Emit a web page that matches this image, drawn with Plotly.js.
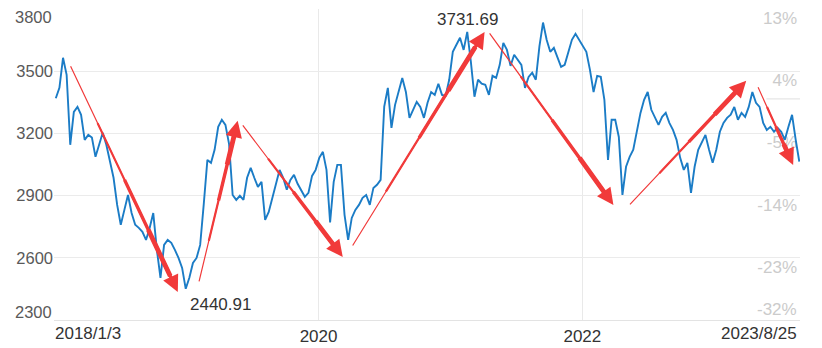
<!DOCTYPE html>
<html>
<head>
<meta charset="utf-8">
<script src="https://cdn.plot.ly/plotly-3.0.1.min.js"></script>
<style>html,body{margin:0;padding:0;background:#fff;}#chart{width:822px;height:348px;}</style>
</head>
<body>
<div id="chart"></div>
<script>
const seriesStart = '2018-01-03';
const sampleStepDays = 10;
const indexValues = [
 3370,3420,3565,3483,3145,3304,3328,3290,3169,3193,
 3180,3087,3145,3203,3145,3058,2986,2855,2759,2831,
 2903,2816,2759,2744,2725,2686,2744,2816,2638,2503,
 2662,2686,2672,2638,2599,2551,2450,2503,2575,2599,
 2662,2860,3072,3058,3121,3232,3266,3241,3150,2903,
 2879,2899,2879,2986,3034,2986,2942,2966,2783,2821,
 2889,2961,3024,2986,2928,2976,3000,2957,2928,2894,
 2913,2995,3024,3082,3111,3024,2770,2966,3048,3048,
 2807,2686,2792,2831,2855,2889,2903,2855,2937,2952,
 2976,3330,3420,3227,3338,3410,3468,3400,3275,3314,
 3352,3328,3275,3348,3400,3386,3440,3386,3381,3459,
 3594,3628,3662,3603,3690,3546,3377,3459,3440,3435,
 3386,3478,3468,3531,3637,3603,3526,3580,3555,3531,
 3420,3473,3493,3459,3620,3735,3652,3594,3613,3570,
 3521,3531,3589,3652,3681,3652,3628,3594,3507,3400,
 3478,3473,3362,3072,3266,3266,3183,2903,3039,3087,
 3121,3217,3299,3362,3400,3314,3280,3241,3280,3299,
 3251,3217,3169,3082,3024,3058,2913,3039,3121,3155,
 3193,3121,3058,3121,3208,3251,3275,3290,3328,3266,
 3299,3280,3328,3400,3348,3328,3251,3217,3232,3208,
 3227,3208,3169,3232,3290,3170,3064
];

// Axis ticks
const leftTickValues = [2300, 2600, 2900, 3200, 3500, 3800];
const pctTickValues = [13, 4, -5, -14, -23, -32];
const pctTickText = ['13%', '4%', '-5%', '-14%', '-23%', '-32%'];
const xTickDates = ['2020-01-01', '2022-01-01'];
const xTickText = ['2020', '2022'];
const xEndLabels = ['2018/1/3', '2023/8/25'];

// Marked extremes
const lowDate = '2019-01-04', lowValue = 2440.91;
const highDate = '2021-02-18', highValue = 3731.69;

// Trend arrows: tail -> head
const arrowTailDates = ['2018-02-11','2019-02-03','2019-06-02','2020-04-02','2021-04-16','2022-05-09','2023-05-01'];
const arrowTailValues = [3531, 2479, 3246, 2652, 3690, 2850, 3430];
const arrowHeadDates = ['2018-12-07','2019-05-22','2020-03-08','2021-04-05','2022-03-28','2023-03-31','2023-08-08'];
const arrowHeadValues = [2435, 3261, 2604, 3690, 2855, 3454, 3048];

const DAY = 86400000;
const t0 = Date.parse(seriesStart + 'T00:00:00Z');
const dates = indexValues.map((_, i) => new Date(t0 + i * sampleStepDays * DAY).toISOString().slice(0, 10));

const RED = 'rgb(241,58,58)';
const fontFam = '"Liberation Sans", Arial, sans-serif';

function toStr(ms) { return new Date(ms).toISOString().slice(0, 19).replace('T', ' '); }

const annotations = [];
// tapered arrows built from stacked segments
const segs = [
  {a: 0.00, b: 0.93, w: 1.2, head: 0},
  {a: 0.25, b: 0.93, w: 2.2, head: 0},
  {a: 0.50, b: 0.93, w: 3.4, head: 0},
  {a: 0.72, b: 0.93, w: 4.8, head: 0},
  {a: 0.85, b: 1.00, w: 3.3, head: 2}
];
for (let k = 0; k < arrowTailDates.length; k++) {
  const tx = Date.parse(arrowTailDates[k] + 'T00:00:00Z');
  const hx = Date.parse(arrowHeadDates[k] + 'T00:00:00Z');
  const ty = arrowTailValues[k], hy = arrowHeadValues[k];
  segs.forEach(s => {
    annotations.push({
      xref: 'x', yref: 'y', axref: 'x', ayref: 'y',
      ax: toStr(tx + (hx - tx) * s.a), ay: ty + (hy - ty) * s.a,
      x: toStr(tx + (hx - tx) * s.b), y: ty + (hy - ty) * s.b,
      text: '', showarrow: true, arrowhead: s.head, arrowsize: 1,
      arrowwidth: s.w, arrowcolor: RED, standoff: 0, startstandoff: 0
    });
  });
}

annotations.push({
  x: lowDate, y: lowValue, xref: 'x', yref: 'y', text: String(lowValue),
  showarrow: false, xanchor: 'left', yanchor: 'top', yshift: -2,
  font: {size: 17, color: '#333', family: fontFam}
});
annotations.push({
  x: highDate, y: highValue, xref: 'x', yref: 'y', text: String(highValue),
  showarrow: false, xanchor: 'center', yanchor: 'middle', yshift: 4,
  font: {size: 17, color: '#333', family: fontFam}
});
annotations.push({
  x: 0, y: 0, xref: 'paper', yref: 'paper', text: xEndLabels[0],
  showarrow: false, xanchor: 'left', yanchor: 'top', yshift: -2, xshift: -1,
  font: {size: 17, color: '#333', family: fontFam}
});
annotations.push({
  x: 1, y: 0, xref: 'paper', yref: 'paper', text: xEndLabels[1],
  showarrow: false, xanchor: 'right', yanchor: 'top', yshift: -2, xshift: -1,
  font: {size: 17, color: '#333', family: fontFam}
});
// end labels of the left axis sit inside the plot height
const leftEnds = [leftTickValues[leftTickValues.length - 1], leftTickValues[0]];
leftEnds.forEach((v, j) => {
  annotations.push({
    x: 0, y: v, xref: 'paper', yref: 'y', text: String(v),
    showarrow: false, xanchor: 'right', yanchor: 'middle',
    yshift: j === 0 ? -8 : 8, xshift: 0,
    font: {size: 16.5, color: '#595959', family: fontFam}
  });
});
annotations.push({
  x: 1, y: pctTickValues[pctTickValues.length - 1], xref: 'paper', yref: 'y2',
  text: pctTickText[pctTickText.length - 1],
  showarrow: false, xanchor: 'right', yanchor: 'bottom', xshift: -1, yshift: -1,
  font: {size: 17, color: '#cbcbcb', family: fontFam}
});

const traces = [
  {
    x: dates, y: indexValues, type: 'scatter', mode: 'lines',
    line: {color: '#1b7cc6', width: 1.9}, hoverinfo: 'skip'
  },
  {x: [], y: [], yaxis: 'y2', type: 'scatter', mode: 'lines', hoverinfo: 'skip', showlegend: false}
];

const layout = {
  width: 822, height: 348,
  margin: {l: 54, r: 22, t: 9, b: 28, pad: 0},
  paper_bgcolor: '#ffffff', plot_bgcolor: '#ffffff',
  showlegend: false,
  font: {family: fontFam, size: 17, color: '#333'},
  xaxis: {
    type: 'date', range: ['2017-12-29', '2023-08-27'],
    tickmode: 'array', tickvals: xTickDates, ticktext: xTickText,
    showgrid: true, gridcolor: '#e9e9e9', gridwidth: 1.2,
    showline: true, linecolor: '#e3e3e3', linewidth: 1.2,
    zeroline: false, ticks: '', tickfont: {size: 17, color: '#333'},
    fixedrange: true
  },
  yaxis: {
    range: [2299.5, 3800.5], tickmode: 'array', tickvals: leftTickValues,
    ticktext: leftTickValues.map((v, i) => (i === 0 || i === leftTickValues.length - 1) ? '' : String(v)),
    showgrid: true, gridcolor: '#ebebeb', gridwidth: 1.2,
    zeroline: false, showline: false, ticks: '', ticklabeloverflow: 'allow',
    tickfont: {size: 16.5, color: '#595959'}, fixedrange: true
  },
  yaxis2: {
    overlaying: 'y', side: 'right', anchor: 'x', range: [-32.015, 13.015],
    tickmode: 'array', tickvals: pctTickValues.slice(0, 5), ticktext: pctTickText.slice(0, 5),
    ticklabelposition: 'inside', ticklabelshift: 9, layer: 'below traces',
    ticklabeloverflow: 'allow',
    showgrid: false, zeroline: false, showline: false, ticks: '',
    tickfont: {size: 17, color: '#cbcbcb'}, fixedrange: true
  },
  shapes: [{
    type: 'line', xref: 'paper', x0: 0.955, x1: 1, yref: 'y2', y0: 0, y1: 0,
    line: {color: '#e6e6e6', width: 1.2}, layer: 'below'
  }],
  annotations: annotations
};

Plotly.newPlot('chart', traces, layout, {staticPlot: true, displayModeBar: false});
</script>
</body>
</html>
